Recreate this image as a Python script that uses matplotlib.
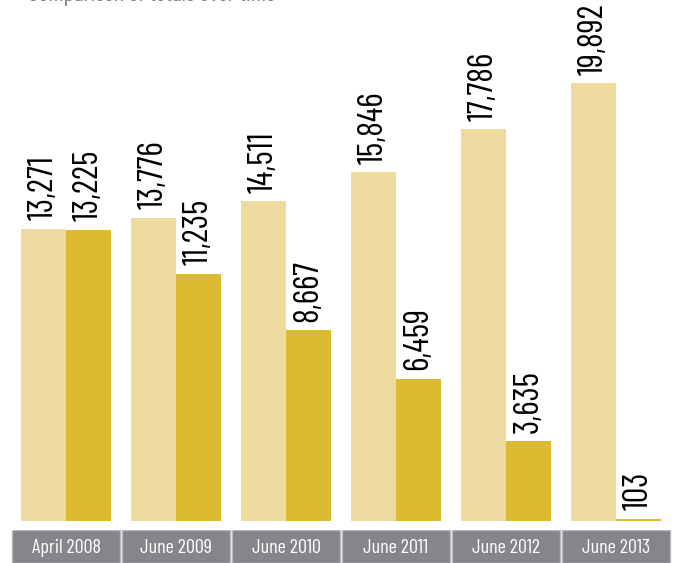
import matplotlib.pyplot as plt
from matplotlib.patches import Rectangle
import numpy as np

# data
periods = ["April 2008", "June 2009", "June 2010", "June 2011", "June 2012", "June 2013"]
series_a = [13271, 13776, 14511, 15846, 17786, 19892]
series_b = [13225, 11235, 8667, 6459, 3635, 103]

light = "#EDDA9E"
dark = "#DCBB33"
box_gray = "#85868A"
cond = ["Barlow Condensed", "DejaVu Sans"]

fig = plt.figure(figsize=(6.76, 5.63), dpi=100)

# title cut off at the top edge of the reference, only descenders show
fig.text(28 / 676, 1 - 0.5 / 563, "Comparison of totals over time", ha="left",
         va="baseline", fontsize=17, family=cond, color="#7A7A7A")

# main bars: baseline at 521 px from top
ax = fig.add_axes([0, 1 - 521 / 563, 1, 521 / 563])
x = np.arange(len(periods))
w = 45 / 110
ax.bar(x - w / 2, series_a, width=w, color=light, linewidth=0)
ax.bar(x + w / 2, series_b, width=w, color=dark, linewidth=0)
ax.set_xlim(-66 / 110, (676 - 66) / 110)
ax.set_ylim(0, 19892 * 521 / 438)
ax.axis("off")

for xi, a, b in zip(x, series_a, series_b):
    for xx, v in ((xi - w / 2, a), (xi + w / 2, b)):
        ax.annotate(f"{v:,}", (xx, v), xytext=(0, 6), textcoords="offset points",
                    rotation=90, ha="center", va="bottom", fontsize=25,
                    family=cond, color="black")

# category label boxes
axb = fig.add_axes([0, 0, 1, 33 / 563])
axb.set_xlim(ax.get_xlim())
axb.set_ylim(0, 1)
axb.axis("off")
for xi, lab in zip(x, periods):
    axb.add_patch(Rectangle((xi - 0.5 + 0.006, 0), 1 - 0.012, 1.0,
                            facecolor=box_gray, edgecolor="#B8B9BC", linewidth=1))
    axb.text(xi, 0.45, lab, ha="center", va="center", color="white",
             fontsize=14.5, family=cond)

fig.savefig("out.png", dpi=100)
